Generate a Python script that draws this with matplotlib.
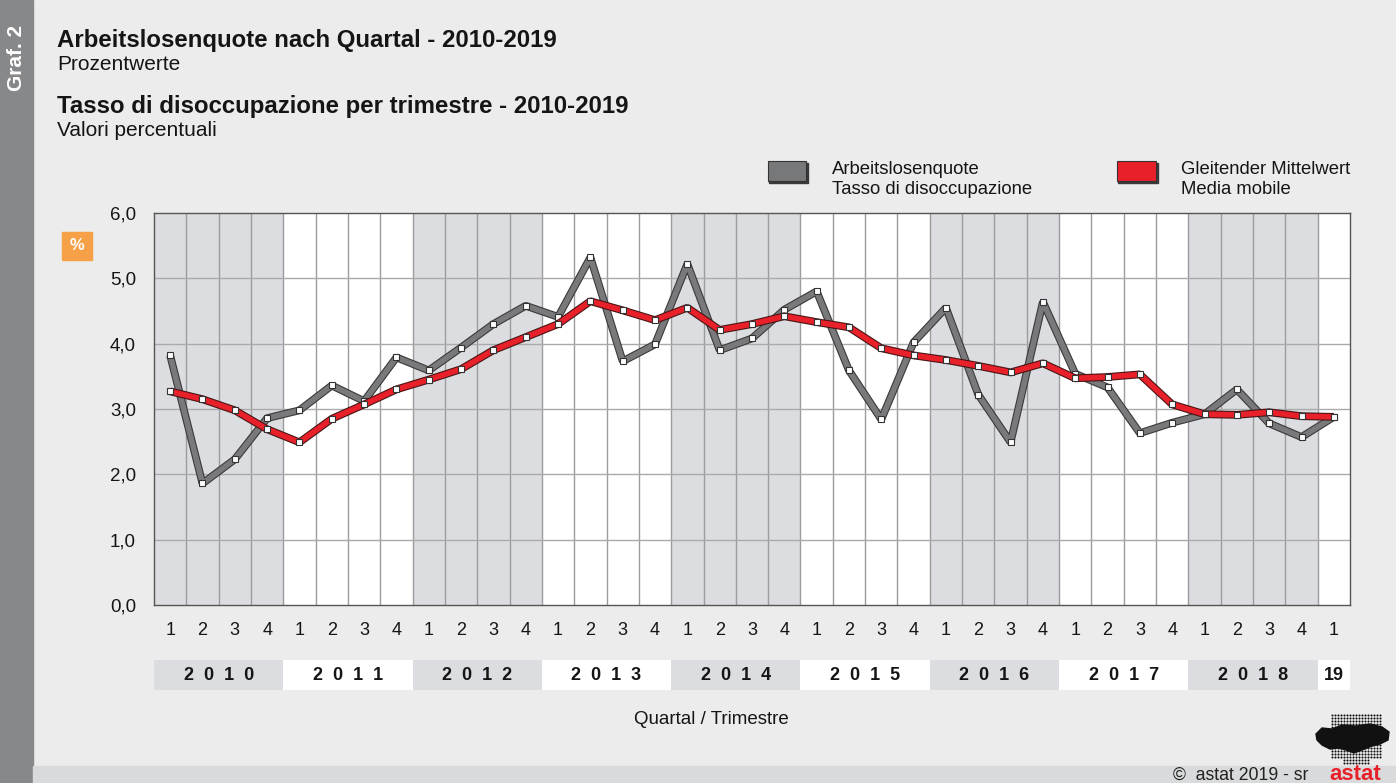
import matplotlib.pyplot as plt
import numpy as np
from matplotlib.patches import Rectangle, Polygon
import matplotlib.transforms as mtransforms

plt.rcParams['font.family'] = ['Liberation Sans', 'DejaVu Sans']

# ---------------- data ----------------
years = ['2010', '2011', '2012', '2013', '2014', '2015', '2016', '2017', '2018', '19']
quarters_per_year = [4, 4, 4, 4, 4, 4, 4, 4, 4, 1]
quarter_labels = ['1', '2', '3', '4'] * 9 + ['1']
y_ticks = [0, 1, 2, 3, 4, 5, 6]
y_tick_labels = ['0,0', '1,0', '2,0', '3,0', '4,0', '5,0', '6,0']

rate = [3.82, 1.86, 2.23, 2.86,
        2.98, 3.36, 3.12, 3.79,
        3.59, 3.94, 4.30, 4.58,
        4.41, 5.32, 3.73, 3.99,
        5.22, 3.90, 4.08, 4.52,
        4.80, 3.59, 2.84, 4.02,
        4.55, 3.22, 2.49, 4.64,
        3.54, 3.33, 2.63, 2.79,
        2.92, 3.30, 2.78, 2.57,
        2.88]
moving_avg = [3.27, 3.15, 2.98, 2.69,
              2.49, 2.85, 3.07, 3.30,
              3.45, 3.61, 3.90, 4.10,
              4.30, 4.65, 4.51, 4.36,
              4.55, 4.21, 4.30, 4.42,
              4.33, 4.25, 3.93, 3.82,
              3.75, 3.66, 3.56, 3.70,
              3.47, 3.49, 3.53, 3.07,
              2.92, 2.91, 2.95, 2.89,
              2.88]

title_de = 'Arbeitslosenquote nach Quartal - 2010-2019'
sub_de = 'Prozentwerte'
title_it = 'Tasso di disoccupazione per trimestre - 2010-2019'
sub_it = 'Valori percentuali'
legend_rate = ['Arbeitslosenquote', 'Tasso di disoccupazione']
legend_avg = ['Gleitender Mittelwert', 'Media mobile']

# ---------------- figure ----------------
W, H = 1396, 783
BG = '#ebeceb'
TXT = '#151515'
fig = plt.figure(figsize=(W / 100, H / 100), dpi=100, facecolor=BG)


def fx(px):
    return px / W


def fy(py):
    return 1 - py / H


def frect(x0, y0, x1, y1, **kw):
    r = Rectangle((fx(x0), fy(y1)), fx(x1) - fx(x0), fy(y0) - fy(y1),
                  transform=fig.transFigure, **kw)
    fig.patches.append(r)
    return r


# side bar and bottom strip
frect(0, 0, 33, H, color='#87888a', zorder=0)
fig.text(fx(17), fy(58), 'Graf. 2', rotation=90, color='white', weight='bold',
         fontsize=15, ha='center', va='center')
frect(33, 766, W, H, color='#d9dadb', zorder=0)

# titles
fig.text(fx(57), fy(40), title_de, fontsize=17.3, weight='bold', va='center', color=TXT)
fig.text(fx(57), fy(65), sub_de, fontsize=15, va='center', color=TXT)
fig.text(fx(57), fy(106), title_it, fontsize=17.3, weight='bold', va='center', color=TXT)
fig.text(fx(57), fy(131), sub_it, fontsize=15, va='center', color=TXT)

# legend
frect(769, 163, 808, 183, color='#3a3a3a', zorder=1)
frect(768, 161, 806, 181, facecolor='#77787a', edgecolor='#333333', lw=0.8, zorder=2)
fig.text(fx(832), fy(170), legend_rate[0], fontsize=13.3, va='center', color=TXT)
fig.text(fx(832), fy(189), legend_rate[1], fontsize=13.3, va='center', color=TXT)
frect(1118, 163, 1158, 183, color='#3a3a3a', zorder=1)
frect(1117, 161, 1156, 181, facecolor='#e8202a', edgecolor='#333333', lw=0.8, zorder=2)
fig.text(fx(1181), fy(170), legend_avg[0], fontsize=13.3, va='center', color=TXT)
fig.text(fx(1181), fy(189), legend_avg[1], fontsize=13.3, va='center', color=TXT)

# % box
frect(62, 232, 92, 260, color='#f6a148', zorder=2)
fig.text(fx(77), fy(246), '%', color='white', weight='bold', fontsize=12, ha='center', va='center')

# ---------------- axes ----------------
ax = fig.add_axes([fx(154), fy(605), 1196 / W, 392 / H])
ax.set_facecolor('white')
n = len(rate)
x = np.arange(n)
ax.set_xlim(-0.5, n - 0.5)
ax.set_ylim(0, 6)

# shaded year blocks
start = 0
year_spans = []
for i, (yr, nq) in enumerate(zip(years, quarters_per_year)):
    year_spans.append((start, start + nq, yr, i % 2 == 0))
    if i % 2 == 0:
        ax.axvspan(start - 0.5, start + nq - 0.5, color='#dcdde0', zorder=0, lw=0)
    start += nq

# grid
for b in np.arange(0.5, n - 0.5, 1):
    ax.axvline(b, color='#9c9c9e', lw=1.0, zorder=1)
for yv in y_ticks[1:-1]:
    ax.axhline(yv, color='#aaaaac', lw=1.0, zorder=1)

for s in ax.spines.values():
    s.set_color('#555555')
    s.set_linewidth(1.0)

ax.set_yticks(y_ticks, y_tick_labels)
ax.set_xticks(x, quarter_labels)
ax.tick_params(axis='y', length=0, pad=13, labelsize=13.5, labelcolor=TXT)
ax.tick_params(axis='x', length=0, pad=12, labelsize=13, labelcolor=TXT)

# series
ax.plot(x, rate, color='#3a3a3a', lw=5.6, solid_joinstyle='bevel', solid_capstyle='butt', zorder=3)
ax.plot(x, rate, color='#79797b', lw=4.0, solid_joinstyle='bevel', solid_capstyle='butt', zorder=3.1)
ax.plot(x, rate, ls='none', marker='s', ms=4.6, mfc='white', mec='#333333', mew=0.8, zorder=3.2)

ax.plot(x, moving_avg, color='#4a1515', lw=5.6, solid_joinstyle='bevel', solid_capstyle='butt', zorder=4)
ax.plot(x, moving_avg, color='#e8202a', lw=4.0, solid_joinstyle='bevel', solid_capstyle='butt', zorder=4.1)
ax.plot(x, moving_avg, ls='none', marker='s', ms=4.6, mfc='white', mec='#333333', mew=0.8, zorder=4.2)

# year band below axis
trans = mtransforms.blended_transform_factory(ax.transData, ax.transAxes)
yb0 = (605 - 690) / 392
yb1 = (605 - 660) / 392
for s0, s1, yr, shaded in year_spans:
    ax.add_patch(Rectangle((s0 - 0.5, yb0), s1 - s0, yb1 - yb0, transform=trans,
                           color='#dcdde0' if shaded else 'white', clip_on=False, lw=0))
    label = '  '.join(yr) if len(yr) == 4 else yr
    ax.text((s0 + s1 - 1) / 2, (yb0 + yb1) / 2, label, transform=trans, ha='center', va='center',
            fontsize=13, weight='bold', color=TXT, clip_on=False)

fig.text(fx(711), fy(720), 'Quartal / Trimestre', fontsize=13.5, ha='center', va='center', color=TXT)

# footer
fig.text(fx(1173), fy(775), '\u00a9  astat 2019 - sr', fontsize=12.7, va='center', color='#222')
fig.text(fx(1355), fy(774), 'astat', fontsize=16, weight='bold', color='#e8202a', ha='center', va='center')

# dotted logo (decoration)
lax = fig.add_axes([fx(1312), fy(768), 80 / W, 56 / H])
lax.set_xlim(0, 80)
lax.set_ylim(56, 0)
lax.axis('off')
gx, gy = np.meshgrid(np.arange(20, 70, 3.0), np.arange(3, 54, 3.0))
gx = gx.ravel()
gy = gy.ravel()
keep = (gy < 48) | (np.abs(gx - 44) < 14)
lax.scatter(gx[keep], gy[keep], s=2.2, color='#111', lw=0)
lax.add_patch(Polygon([[4, 22], [10, 16], [20, 17], [30, 13], [44, 14], [58, 12], [70, 15],
                       [77, 20], [76, 28], [68, 32], [60, 34], [50, 38], [42, 41], [34, 38],
                       [26, 36], [18, 37], [10, 33], [5, 28]], closed=True, color='#111'))

fig.savefig('out.png', dpi=100, facecolor=BG)
